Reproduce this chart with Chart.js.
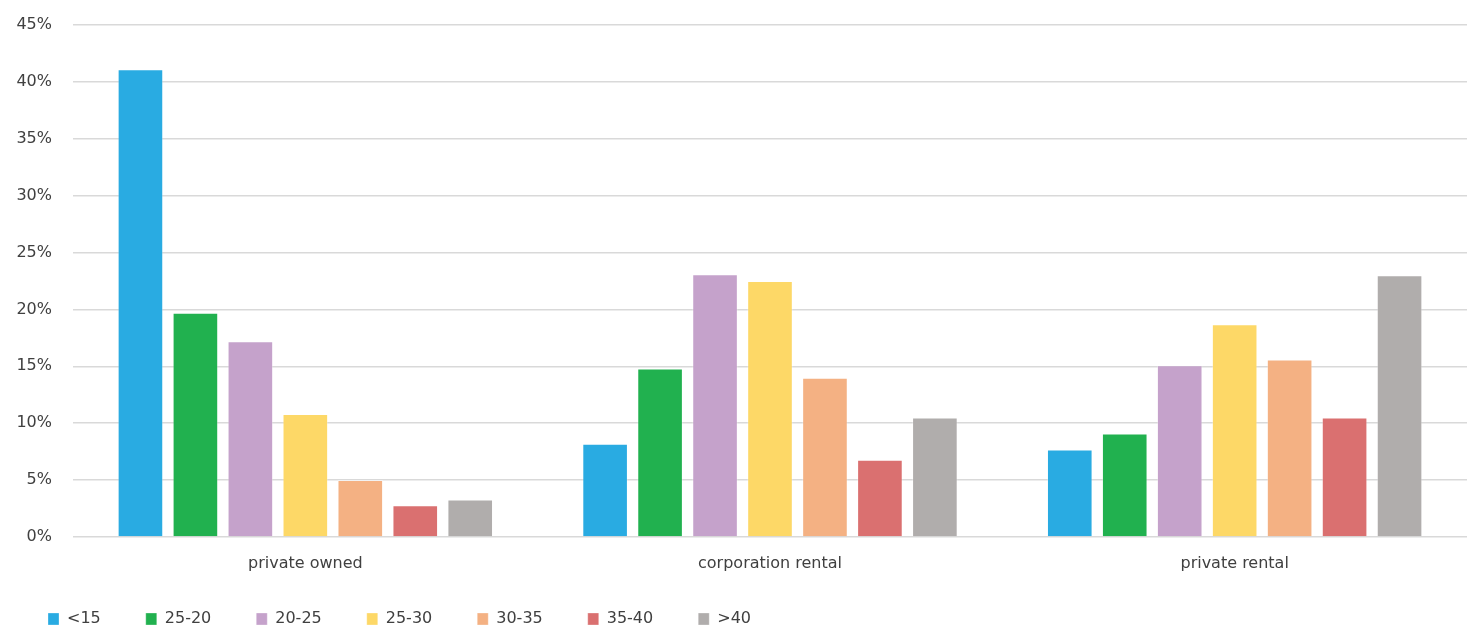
<!DOCTYPE html>
<html>
<head>
<meta charset="utf-8">
<script src="https://cdn.jsdelivr.net/npm/chart.js@4"></script>
<style>
  body { margin: 0; background: #fff; }
  #wrap { width: 1472px; height: 625px; }
</style>
</head>
<body>
<div id="wrap"><canvas id="myChart"></canvas></div>
<script>
var categories = ['private owned', 'corporation rental', 'private rental'];
var groups = ['<15', '25-20', '20-25', '25-30', '30-35', '35-40', '>40'];

// share per category (fractions)
var under15 = [0.411, 0.082, 0.077];
var g25to20 = [0.197, 0.148, 0.091];
var g20to25 = [0.172, 0.231, 0.151];
var g25to30 = [0.108, 0.225, 0.187];
var g30to35 = [0.050, 0.140, 0.156];
var g35to40 = [0.028, 0.068, 0.105];
var over40 = [0.033, 0.105, 0.230];

var colors = ['#29abe2', '#21b14f', '#c5a2cb', '#fdd867', '#f4b183', '#da7070', '#b0adac'];
var series = [under15, g25to20, g20to25, g25to30, g30to35, g35to40, over40];

Chart.defaults.font.family = '"DejaVu Sans", sans-serif';
Chart.defaults.font.size = 16;
Chart.defaults.color = '#404040';

var ctx = document.getElementById('myChart');
var chart = new Chart(ctx, {
  type: 'bar',
  data: {
    labels: categories,
    datasets: groups.map(function (g, i) {
      return {
        label: g,
        data: series[i],
        backgroundColor: colors[i],
        borderColor: 'rgba(255,255,255,0.3)',
        borderWidth: 1,
        categoryPercentage: 0.828,
        barPercentage: 0.83
      };
    })
  },
  options: {
    responsive: true,
    maintainAspectRatio: false,
    animation: false,
    layout: { padding: { left: 11, right: 5, top: 25, bottom: 0 } },
    scales: {
      x: {
        grid: { display: false, drawTicks: false },
        border: { display: false },
        afterFit: function (axis) { axis.height = 37; },
        ticks: { padding: 17 }
      },
      y: {
        min: 0,
        max: 0.45,
        grid: { color: '#d9d9d9', lineWidth: 1.5, drawTicks: false },
        border: { display: false },
        afterFit: function (axis) {
          axis.width = 62;
          axis.paddingTop = 0;
          axis.paddingBottom = 0;
        },
        ticks: {
          stepSize: 0.05,
          padding: 21,
          callback: function (v) { return Math.round(v * 100) + '%'; }
        }
      }
    },
    plugins: {
      tooltip: { enabled: false },
      legend: {
        position: 'bottom',
        align: 'start',
        maxHeight: 51,
        labels: {
          boxWidth: 11,
          boxHeight: 12,
          padding: 37,
          // a bit more room between items than the padding alone gives
          generateLabels: function (chart) {
            var items = Chart.defaults.plugins.legend.labels.generateLabels(chart);
            items.forEach(function (it) { it.text = it.text + '\u2002'; });
            return items;
          }
        }
      }
    }
  }
});
</script>
</body>
</html>
